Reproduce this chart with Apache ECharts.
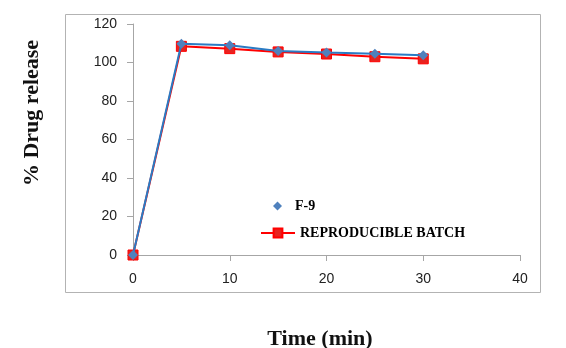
<!DOCTYPE html>
<html>
<head>
<meta charset="utf-8">
<script src="https://cdn.jsdelivr.net/npm/echarts@6/dist/echarts.min.js"></script>
<style>html,body{margin:0;padding:0;background:#fff}#c{width:566px;height:348px}</style>
</head>
<body>
<div id="c"></div>
<script>
var timePoints = [0, 5, 10, 15, 20, 25, 30];
var f9Values = [0, 109.8, 109.0, 106.0, 105.2, 104.6, 103.8];
var batchValues = [0, 108.4, 107.2, 105.5, 104.4, 103.0, 101.9];
var seriesNames = ['F-9', 'REPRODUCIBLE BATCH'];
var xAxisTitle = 'Time (min)';
var yAxisTitle = '% Drug release';

function pairs(xs, ys) { return xs.map(function (x, i) { return [x, ys[i]]; }); }

var chart = echarts.init(document.getElementById('c'), null, {renderer: 'canvas'});
var axisLabelStyle = {color: '#222', fontSize: 14, fontFamily: 'Liberation Sans, Arial, sans-serif'};
var legendText = {fontFamily: 'Liberation Serif, Times New Roman, serif', fontWeight: 'bold', fontSize: 14, color: '#000'};
chart.setOption({
  animation: false,
  backgroundColor: '#fff',
  grid: {left: 133, right: 46, top: 24, bottom: 93, containLabel: false},
  xAxis: {
    type: 'value', min: 0, max: 40, interval: 10,
    splitLine: {show: false},
    axisLine: {lineStyle: {color: '#a6a6a6', width: 1}},
    axisTick: {show: true, length: 6, lineStyle: {color: '#a6a6a6'}},
    axisLabel: Object.assign({margin: 17}, axisLabelStyle)
  },
  yAxis: {
    type: 'value', min: 0, max: 120, interval: 20,
    splitLine: {show: false},
    axisLine: {show: true, lineStyle: {color: '#a6a6a6', width: 1}},
    axisTick: {show: true, length: 6, lineStyle: {color: '#a6a6a6'}},
    axisLabel: Object.assign({margin: 16}, axisLabelStyle)
  },
  legend: [{
    data: [{name: seriesNames[0], icon: 'diamond'}],
    left: 273, top: 199, padding: 0, itemWidth: 9, itemHeight: 9,
    textStyle: Object.assign({padding: [0, 0, 0, 8]}, legendText)
  }, {
    data: [{name: seriesNames[1]}],
    left: 260, top: 226, padding: 0, itemWidth: 34, itemHeight: 11,
    textStyle: legendText
  }],
  graphic: [{
    type: 'rect', shape: {x: 65.5, y: 14.5, width: 475, height: 278},
    style: {fill: 'none', stroke: '#b3b3b3', lineWidth: 1}, z: -1, silent: true
  }, {
    type: 'text', x: 32, y: 113, rotation: Math.PI / 2,
    style: {text: yAxisTitle, fill: '#111', font: 'bold 22px "Liberation Serif", serif', textAlign: 'center', textVerticalAlign: 'middle'}
  }, {
    type: 'text', x: 320, y: 339,
    style: {text: xAxisTitle, fill: '#111', font: 'bold 22px "Liberation Serif", serif', textAlign: 'center', textVerticalAlign: 'middle'}
  }],
  series: [{
    name: seriesNames[1], type: 'line', data: pairs(timePoints, batchValues),
    symbol: 'rect', symbolSize: 10, z: 2,
    lineStyle: {color: '#ff0000', width: 2},
    itemStyle: {color: '#e8231f', borderColor: '#ff0000', borderWidth: 1}
  }, {
    name: seriesNames[0], type: 'line', data: pairs(timePoints, f9Values),
    symbol: 'diamond', symbolSize: 10, z: 3,
    lineStyle: {color: '#2a7bc4', width: 2},
    itemStyle: {color: '#4f81bd'}
  }]
});
</script>
</body>
</html>
